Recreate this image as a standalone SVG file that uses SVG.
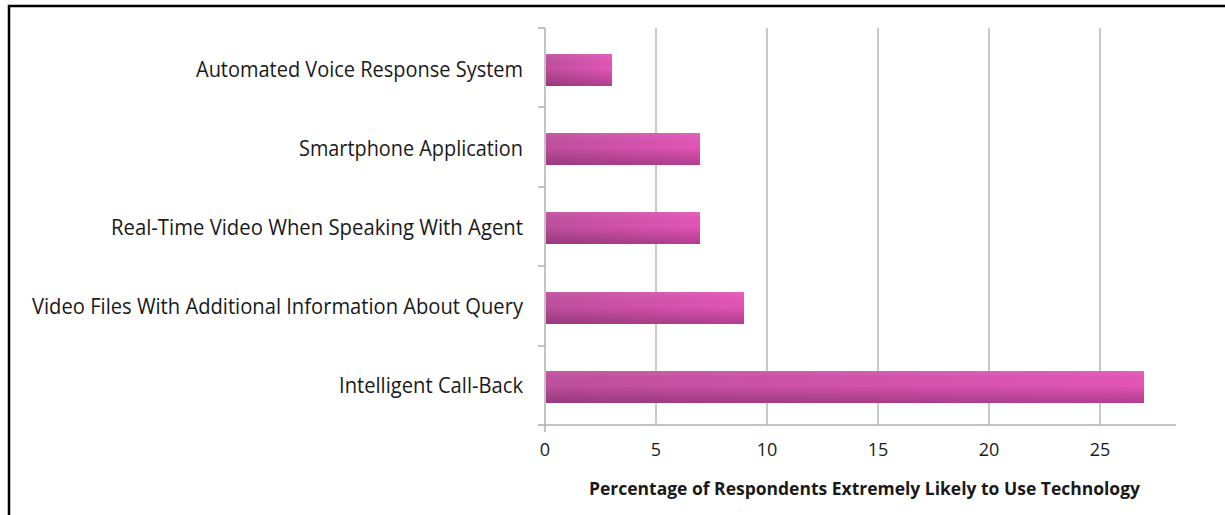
<svg xmlns="http://www.w3.org/2000/svg" width="1225" height="515" viewBox="0 0 1225 515">
<style>
.grid{stroke:#c9c9c9;stroke-width:2}
.axis{stroke:#b0b0b0;stroke-width:1.5}
.lbl{font-family:"Open Sans","Liberation Sans",sans-serif;font-size:21px;fill:#1a1a1a;text-anchor:end}
.num{font-family:"Open Sans","Liberation Sans",sans-serif;font-size:18px;fill:#1a1a1a;text-anchor:middle}
.ttl{font-family:"Open Sans","Liberation Sans",sans-serif;font-size:18.5px;font-weight:bold;fill:#1a1a1a}
.shade{fill:url(#gv)}
.bar{fill:url(#gh)}
</style>
<defs>
<linearGradient id="gh" x1="0" y1="0" x2="1" y2="0">
<stop offset="0" stop-color="#c04f9e"/>
<stop offset="1" stop-color="#e455b7"/>
</linearGradient>
<linearGradient id="gv" x1="0" y1="0" x2="0" y2="1">
<stop offset="0" stop-color="#ffffff" stop-opacity="0.08"/>
<stop offset="0.45" stop-color="#000000" stop-opacity="0"/>
<stop offset="1" stop-color="#3a0030" stop-opacity="0.28"/>
</linearGradient>
</defs>
<rect width="1225" height="515" fill="#ffffff"/>
<path d="M9,515 V6 H1225" fill="none" stroke="#000" stroke-width="2.5"/>
<g id="gridlines">
<line class="grid" x1="656" y1="28" x2="656" y2="425"/>
<line class="grid" x1="767" y1="28" x2="767" y2="425"/>
<line class="grid" x1="878" y1="28" x2="878" y2="425"/>
<line class="grid" x1="989" y1="28" x2="989" y2="425"/>
<line class="grid" x1="1100" y1="28" x2="1100" y2="425"/>
</g>
<g id="axes">
<line class="axis" x1="545" y1="28" x2="545" y2="432"/>
<line class="axis" x1="538" y1="425" x2="1176" y2="425"/>
<line class="axis" x1="538" y1="28" x2="545" y2="28"/>
<line class="axis" x1="538" y1="107" x2="545" y2="107"/>
<line class="axis" x1="538" y1="187" x2="545" y2="187"/>
<line class="axis" x1="538" y1="266" x2="545" y2="266"/>
<line class="axis" x1="538" y1="346" x2="545" y2="346"/>
</g>
<g id="bar-automated">
<rect class="bar" x="546" y="54" width="66" height="32"/>
<rect class="shade" x="546" y="54" width="66" height="32"/>
<text class="lbl" x="523" y="77" textLength="327" lengthAdjust="spacingAndGlyphs">Automated Voice Response System</text>
</g>
<g id="bar-smartphone">
<rect class="bar" x="546" y="133" width="154" height="32"/>
<rect class="shade" x="546" y="133" width="154" height="32"/>
<text class="lbl" x="523" y="156" textLength="224" lengthAdjust="spacingAndGlyphs">Smartphone Application</text>
</g>
<g id="bar-realtime">
<rect class="bar" x="546" y="212" width="154" height="32"/>
<rect class="shade" x="546" y="212" width="154" height="32"/>
<text class="lbl" x="523" y="235" textLength="412" lengthAdjust="spacingAndGlyphs">Real-Time Video When Speaking With Agent</text>
</g>
<g id="bar-videofiles">
<rect class="bar" x="546" y="292" width="198" height="32"/>
<rect class="shade" x="546" y="292" width="198" height="32"/>
<text class="lbl" x="523" y="314" textLength="491" lengthAdjust="spacingAndGlyphs">Video Files With Additional Information About Query</text>
</g>
<g id="bar-callback">
<rect class="bar" x="546" y="371" width="598" height="32"/>
<rect class="shade" x="546" y="371" width="598" height="32"/>
<text class="lbl" x="523" y="393" textLength="184" lengthAdjust="spacingAndGlyphs">Intelligent Call-Back</text>
</g>
<g id="ticks">
<text class="num" x="545" y="456">0</text>
<text class="num" x="656" y="456">5</text>
<text class="num" x="767" y="456">10</text>
<text class="num" x="878" y="456">15</text>
<text class="num" x="989" y="456">20</text>
<text class="num" x="1100" y="456">25</text>
</g>
<text class="ttl" x="589" y="495" textLength="551" lengthAdjust="spacingAndGlyphs">Percentage of Respondents Extremely Likely to Use Technology</text>
</svg>
